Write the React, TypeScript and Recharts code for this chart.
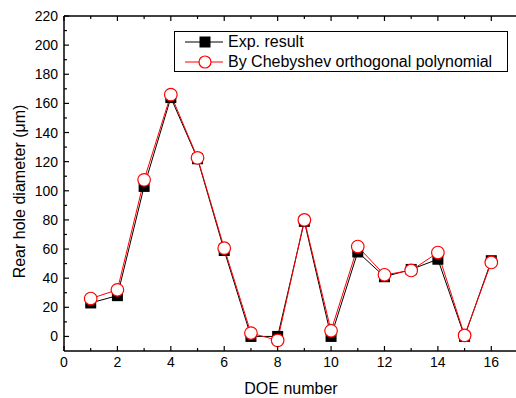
import { LineChart, Line, XAxis, YAxis, Legend } from 'recharts'

const DOE = [1, 2, 3, 4, 5, 6, 7, 8, 9, 10, 11, 12, 13, 14, 15, 16]
const EXP_RESULT = [23, 28, 103, 164, 122, 59, 0, 0, 79, 0, 58, 41, 46, 53, 0, 52]
const CHEBYSHEV = [26, 32, 107.5, 166, 122.6, 60.6, 2.3, -2.7, 80, 3.9, 61.7, 42.3, 45.3, 57.6, 0.7, 50.8]

const X_TICKS = [0, 1, 2, 3, 4, 5, 6, 7, 8, 9, 10, 11, 12, 13, 14, 15, 16, 17]
const Y_TICKS = [0, 10, 20, 30, 40, 50, 60, 70, 80, 90, 100, 110, 120, 130, 140, 150, 160, 170, 180, 190, 200, 210, 220]

const FONT = '"Liberation Sans", Arial, sans-serif'

const data = DOE.map((doe, i) => ({ doe, exp: EXP_RESULT[i], cheb: CHEBYSHEV[i] }))

const BottomTick = (props: any) => {
  const { x, y, payload } = props
  const major = payload.value % 2 === 0
  return (
    <g>
      <line x1={x} x2={x} y1={y} y2={y - (major ? 5 : 3)} stroke="#000" strokeWidth={1.2} />
      {major && (
        <text x={x} y={y + 16} textAnchor="middle" fontSize={14} fontFamily={FONT} fill="#000">
          {payload.value}
        </text>
      )}
    </g>
  )
}

const TopTick = (props: any) => {
  const { x, y, payload } = props
  const major = payload.value % 2 === 0
  return <line x1={x} x2={x} y1={y} y2={y + (major ? 5 : 3)} stroke="#000" strokeWidth={1.2} />
}

const LeftTick = (props: any) => {
  const { x, y, payload } = props
  const major = payload.value % 20 === 0
  return (
    <g>
      <line x1={x} x2={x + (major ? 5 : 3)} y1={y} y2={y} stroke="#000" strokeWidth={1.2} />
      {major && (
        <text x={x - 6} y={y + 5} textAnchor="end" fontSize={14} fontFamily={FONT} fill="#000">
          {payload.value}
        </text>
      )}
    </g>
  )
}

const SquareDot = (props: any) => {
  const { cx, cy, index } = props
  if (cx == null || cy == null) return <g key={index} />
  return <rect key={index} x={cx - 5.5} y={cy - 5.5} width={11} height={11} fill="#000" />
}

const CircleDot = (props: any) => {
  const { cx, cy, index } = props
  if (cx == null || cy == null) return <g key={index} />
  return <circle key={index} cx={cx} cy={cy} r={6.3} fill="#fff" stroke="#f00" strokeWidth={1.2} />
}

const renderLegend = () => (
  <div
    style={{
      width: 332,
      height: 39,
      border: '1px solid #000',
      background: '#fff',
      fontFamily: FONT,
      fontSize: 16,
      color: '#000',
    }}
  >
    <div style={{ display: 'flex', alignItems: 'center', height: 20 }}>
      <svg width={53} height={20}>
        <line x1={10} x2={48} y1={10} y2={10} stroke="#000" strokeWidth={1} />
        <rect x={24.5} y={4.5} width={11} height={11} fill="#000" />
      </svg>
      <span style={{ lineHeight: '20px' }}>Exp. result</span>
    </div>
    <div style={{ display: 'flex', alignItems: 'center', height: 20 }}>
      <svg width={53} height={20}>
        <line x1={10} x2={48} y1={10} y2={10} stroke="#f00" strokeWidth={1} />
        <circle cx={30} cy={10} r={6} fill="#fff" stroke="#f00" strokeWidth={1.2} />
      </svg>
      <span style={{ lineHeight: '20px' }}>By Chebyshev orthogonal polynomial</span>
    </div>
  </div>
)

export default function App() {
  return (
    <div
      style={{
        position: 'absolute',
        left: 0,
        top: 0,
        width: 516,
        height: 398,
        overflow: 'hidden',
        background: '#fff',
      }}
    >
      <LineChart width={530} height={398} data={data} margin={{ top: 0, right: 12, left: 0, bottom: 0 }}>
        <XAxis
          xAxisId="bottom"
          dataKey="doe"
          type="number"
          domain={[0, 17]}
          ticks={X_TICKS}
          interval={0}
          height={47}
          tickSize={0}
          tickMargin={0}
          tickLine={false}
          tick={BottomTick}
          axisLine={{ stroke: '#000', strokeWidth: 1.5 }}
          allowDataOverflow
          label={{ value: 'DOE number', position: 'insideBottom', offset: 4, fontSize: 16, fontFamily: FONT, fill: '#000' }}
        />
        <XAxis
          xAxisId="top"
          orientation="top"
          dataKey="doe"
          type="number"
          domain={[0, 17]}
          ticks={X_TICKS}
          interval={0}
          height={16}
          tickSize={0}
          tickMargin={0}
          tickLine={false}
          tick={TopTick}
          axisLine={{ stroke: '#000', strokeWidth: 1.5 }}
          allowDataOverflow
        />
        <YAxis
          type="number"
          domain={[-10, 220]}
          ticks={Y_TICKS}
          interval={0}
          width={64}
          tickSize={0}
          tickMargin={0}
          tickLine={false}
          tick={LeftTick}
          axisLine={{ stroke: '#000', strokeWidth: 1.5 }}
          allowDataOverflow
          label={{
            value: 'Rear hole diameter (\u03bcm)',
            angle: -90,
            position: 'center',
            dx: -13,
            dy: 8,
            fontSize: 16,
            fontFamily: FONT,
            fill: '#000',
          }}
        />
        <Legend
          layout="vertical"
          align="center"
          verticalAlign="middle"
          content={renderLegend}
          wrapperStyle={{ left: 174, top: 31, width: 334, height: 41 }}
        />
        <Line
          xAxisId="bottom"
          dataKey="exp"
          stroke="#000"
          strokeWidth={1}
          dot={SquareDot}
          activeDot={false}
          isAnimationActive={false}
        />
        <Line
          xAxisId="bottom"
          dataKey="cheb"
          stroke="#f00"
          strokeWidth={1}
          dot={CircleDot}
          activeDot={false}
          isAnimationActive={false}
        />
      </LineChart>
    </div>
  )
}
